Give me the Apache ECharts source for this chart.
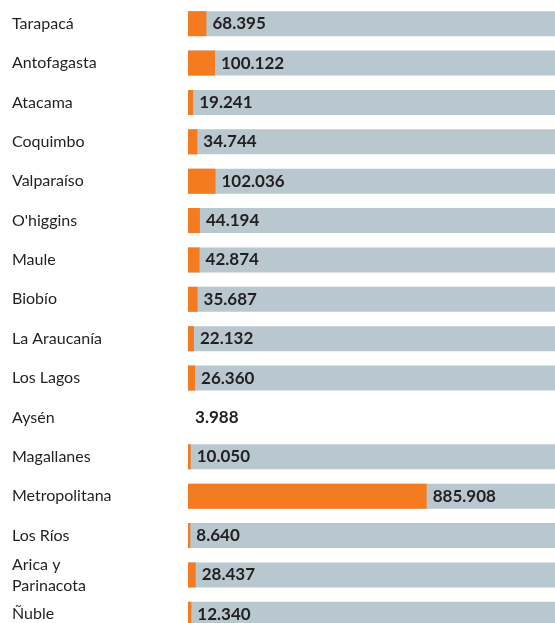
<!DOCTYPE html>
<html>
<head>
<meta charset="utf-8">
<script src="https://cdn.jsdelivr.net/npm/echarts@6/dist/echarts.min.js"></script>
<style>
  html, body { margin: 0; padding: 0; background: #fff; overflow: hidden; }
  #chart { width: 555px; height: 634px; }
</style>
</head>
<body>
<div id="chart"></div>
<script>
// regiones (miles)
const regions = ['Tarapacá', 'Antofagasta', 'Atacama', 'Coquimbo', 'Valparaíso', "O'higgins", 'Maule', 'Biobío',
  'La Araucanía', 'Los Lagos', 'Aysén', 'Magallanes', 'Metropolitana', 'Los Ríos', 'Arica y\nParinacota', 'Ñuble']
const values = [68.395, 100.122, 19.241, 34.744, 102.036, 44.194, 42.874, 35.687,
  22.132, 26.360, 3.988, 10.050, 885.908, 8.640, 28.437, 12.340]
const axisMax = 1362
// fondo gris: Aysén sin barra
const backValues = regions.map(r => r === 'Aysén' ? '-' : axisMax)

const chart = echarts.init(document.getElementById('chart'))

const option = {
  animation: false,
  backgroundColor: '#fff',
  grid: { left: 188, right: 0, top: 4, bottom: 0 },
  xAxis: {
    type: 'value',
    min: 0,
    max: axisMax,
    show: false
  },
  yAxis: {
    type: 'category',
    data: regions,
    inverse: true,
    axisLine: { show: false },
    axisTick: { show: false },
    axisLabel: {
      align: 'left',
      margin: 176,
      fontFamily: 'Lato',
      fontSize: 16,
      lineHeight: 21,
      color: '#231f20'
    }
  },
  series: [
    {
      name: 'fondo',
      type: 'bar',
      data: backValues,
      barWidth: 25,
      itemStyle: { color: '#b9c8cf' },
      silent: true
    },
    {
      name: 'valor',
      type: 'bar',
      data: values,
      barWidth: 25,
      barGap: '-100%',
      itemStyle: {
        color: p => regions[p.dataIndex] === 'Aysén' ? 'rgba(0,0,0,0)' : '#f47b20'
      },
      label: {
        show: true,
        position: 'right',
        distance: 6,
        fontFamily: 'Lato',
        fontWeight: 'bold',
        fontSize: 17,
        color: '#231f20',
        formatter: p => p.value.toFixed(3)
      }
    }
  ]
}

chart.setOption(option)
</script>
</body>
</html>
